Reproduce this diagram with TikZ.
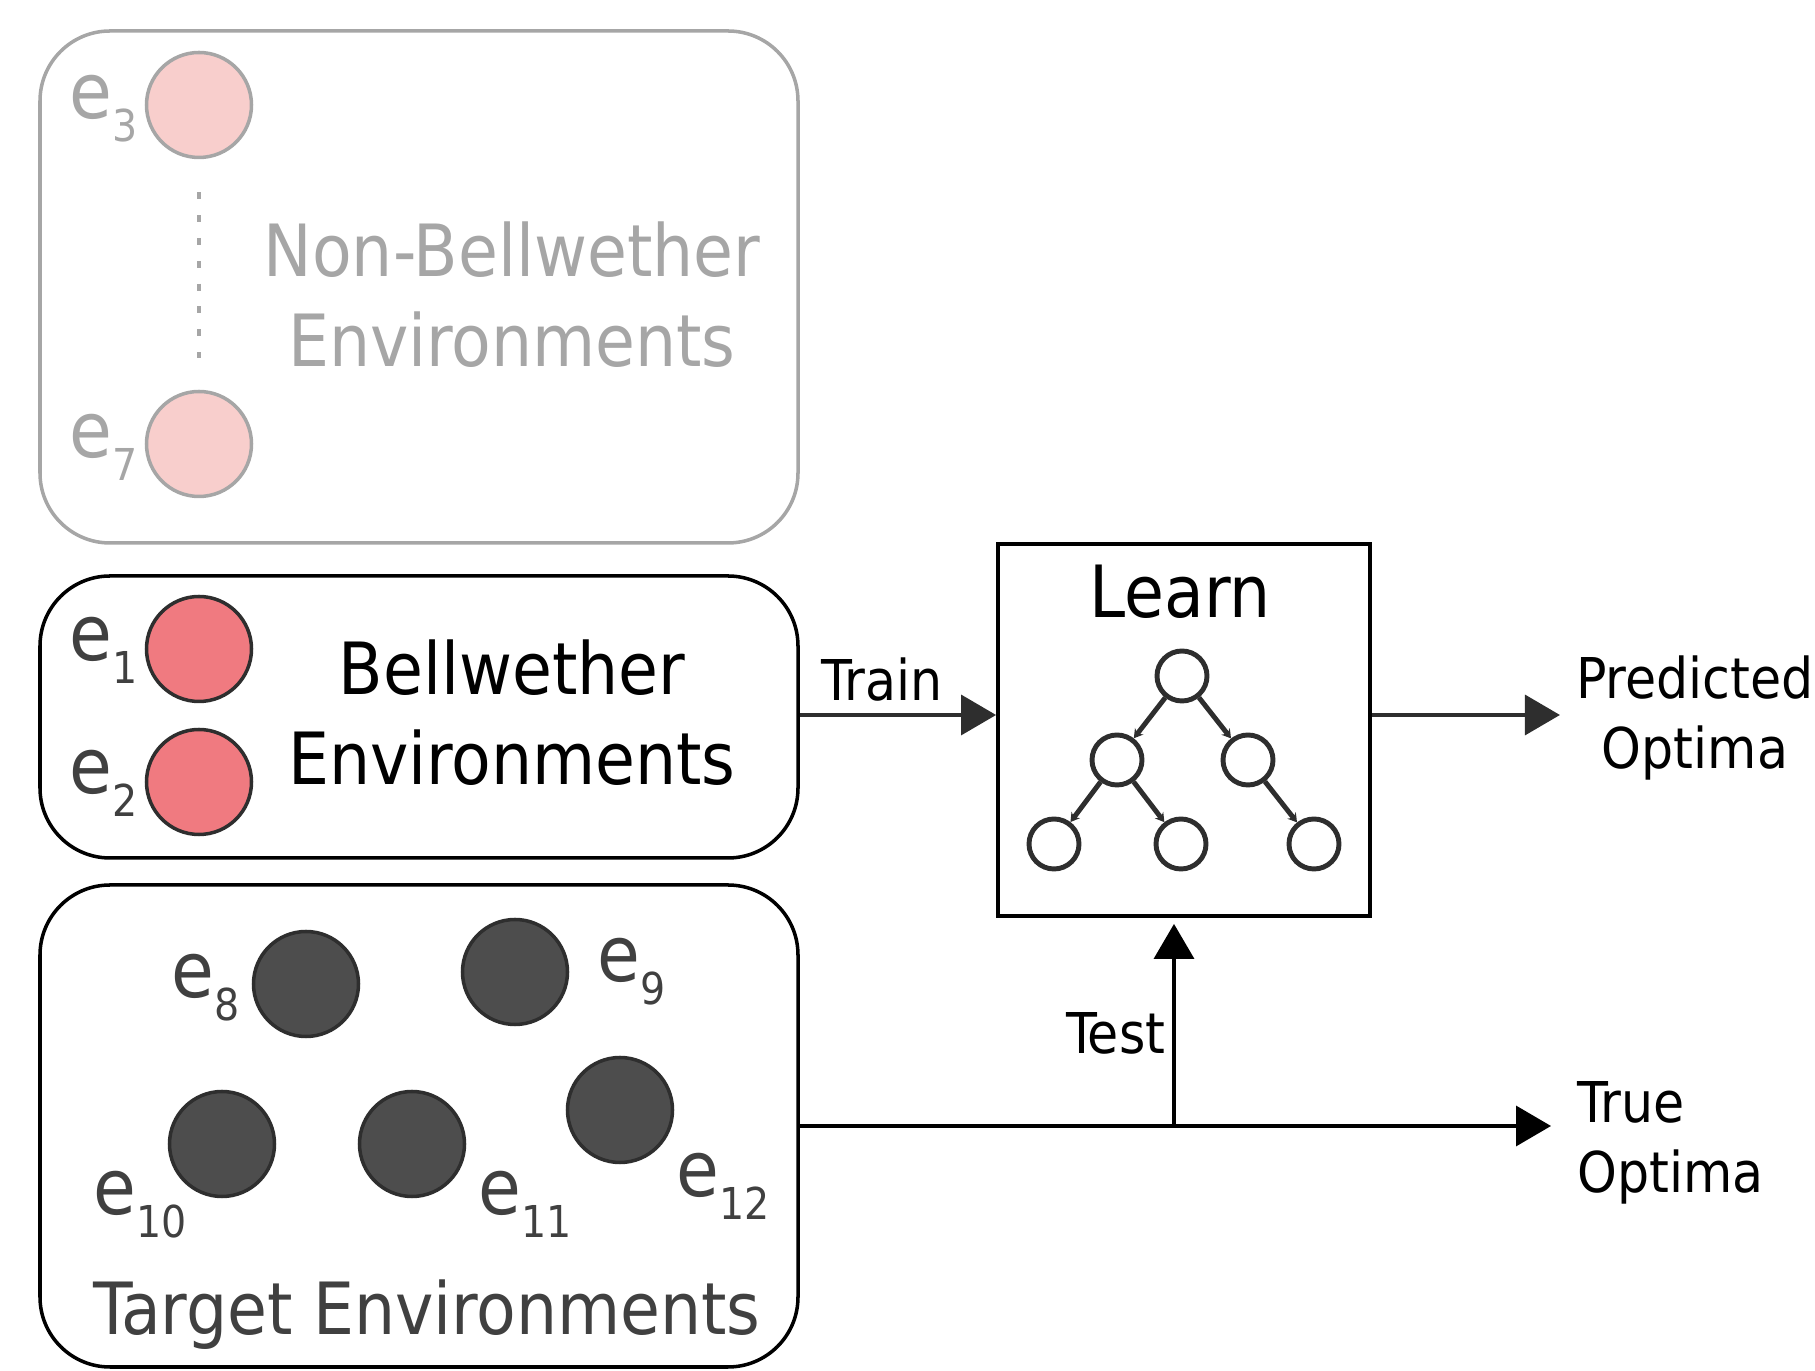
\documentclass[tikz,border=0pt]{standalone}
\usepackage{fontspec}
\setmainfont{DejaVu Sans Condensed}
\usetikzlibrary{arrows.meta, calc, positioning}

\definecolor{fadegray}{HTML}{A6A6A6}
\definecolor{darkgray}{HTML}{404040}
\definecolor{linegray}{HTML}{2E2E2E}
\definecolor{nonfill}{HTML}{F8CECC}
\definecolor{bwfill}{HTML}{F07A80}
\definecolor{targetfill}{HTML}{4D4D4D}

\newcommand{\envname}[1]{e\raisebox{-6.5pt}{\fontsize{12.5}{12.5}\selectfont#1}}

\begin{document}
\begin{tikzpicture}[>={Triangle[length=.35cm, width=.4cm]}]
  \tikzset{
   group/.style={draw, rounded corners=.7cm, line width=1pt, minimum width=7.58cm},
   env/.style={circle, draw, line width=1pt, minimum size=1.05cm, inner sep=0pt},
   envlabel/.style={anchor=base west, inner sep=0pt, font=\fontsize{22}{22}\selectfont},
   big/.style={font=\fontsize{20.5}{25.6}\selectfont, align=center},
   small/.style={font=\fontsize{16}{20}\selectfont},
   tnode/.style={circle, draw=linegray, line width=1.4pt, minimum size=.5cm, inner sep=0pt},
   tedge/.style={draw=linegray, line width=1.4pt, -{Stealth[length=2.5pt, width=3pt]}},
   flow/.style={->, line width=1pt},
  }
  \useasboundingbox (0,0) rectangle (18.15,13.71);

  % the three groups of environments
  \node[group, draw=fadegray, minimum height=5.12cm] (nonbw) at (4.19,10.84) {};
  \node[group, minimum height=2.82cm] (bw) at (4.19,6.54) {};
  \node[group, minimum height=4.82cm] (target) at (4.19,2.45) {};

  \foreach \n/\x/\y/\lx/\ly in {
   3/1.99/12.66/0.69/12.52,
   7/1.99/9.27/0.69/9.13
  } {
   \node[env, draw=fadegray, fill=nonfill] (e\n) at (\x,\y) {};
   \node[envlabel, text=fadegray] (l\n) at (\lx,\ly) {\envname{\n}};
  }
  \draw[fadegray, line width=1pt, dash pattern=on 2pt off 4.5pt,
   shorten <=.33cm, shorten >=.32cm] (e3) -- (e7);

  \foreach \n/\x/\y/\lx/\ly in {
   1/1.99/7.22/0.69/7.10,
   2/1.99/5.89/0.69/5.77
  } {
   \node[env, draw=linegray, fill=bwfill] (e\n) at (\x,\y) {};
   \node[envlabel, text=darkgray] (l\n) at (\lx,\ly) {\envname{\n}};
  }

  \foreach \n/\x/\y/\lx/\ly in {
   8/3.06/3.87/1.71/3.73,
   9/5.15/3.99/5.97/3.89,
   10/2.22/2.27/0.93/1.56,
   11/4.12/2.27/4.78/1.56,
   12/6.20/2.61/6.76/1.74
  } {
   \node[env, draw=linegray, fill=targetfill] (e\n) at (\x,\y) {};
   \node[envlabel, text=darkgray] (l\n) at (\lx,\ly) {\envname{\n}};
  }

  \node[big, text=fadegray] (nonbwtext) at (5.12,10.76) {Non-Bellwether\\Environments};
  \node[big] (bwtext) at (5.12,6.58) {Bellwether\\Environments};
  \node[big, text=darkgray, anchor=base] (targettext) at (4.27,0.36) {Target Environments};

  % learner
  \node[draw, line width=1.1pt, minimum size=3.72cm] (learn) at (11.84,6.41) {};
  \node[big] (learntext) at (11.80,7.79) {Learn};
  \node[tnode] (root) at (11.82,6.95) {};
  \node[tnode] (l) at (11.17,6.11) {};
  \node[tnode] (r) at (12.48,6.11) {};
  \node[tnode] (ll) at (10.54,5.27) {};
  \node[tnode] (lr) at (11.81,5.27) {};
  \node[tnode] (rr) at (13.14,5.27) {};
  \foreach \a/\b in {root/l, root/r, l/ll, l/lr, r/rr}
   \draw[tedge] (\a) -- (\b);

  \node[small, align=center] (predicted) at (16.95,6.53) {Predicted\\Optima};
  \node[small, align=left, anchor=west, inner sep=0pt] (true) at (15.77,2.28) {True\\Optima};

  \coordinate (trainend) at ([yshift=.02cm]bw.east -| learn.west);
  \coordinate (predstart) at (trainend -| learn.east);
  \coordinate (split) at ([xshift=-.1cm]learn.south |- target.east);

  \draw[flow, linegray] ([yshift=.02cm]bw.east) -- node[small, above, pos=.42, text=black] (train) {Train} (trainend);
  \draw[flow, linegray] (predstart) -- ++(1.88,0);
  \draw[flow] (target.east) -- ([xshift=-.26cm]true.west |- target.east);
  \draw[flow] (split) -- node[small, left, pos=.46, inner sep=2pt] (test) {Test} ([xshift=-.1cm, yshift=-.06cm]learn.south);
\end{tikzpicture}
\end{document}
